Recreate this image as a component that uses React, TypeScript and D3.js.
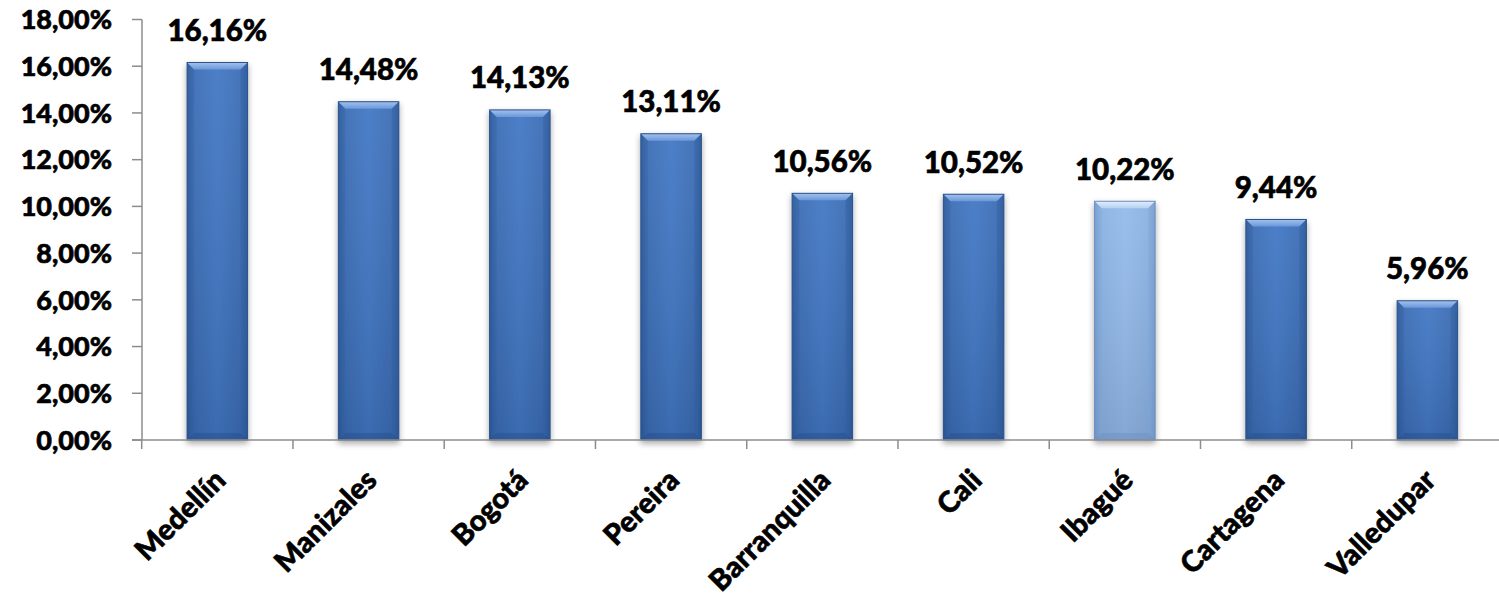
import React from "react";
import * as d3 from "d3";

const categories = ["Medellín", "Manizales", "Bogotá", "Pereira", "Barranquilla", "Cali", "Ibagué", "Cartagena", "Valledupar"];
const values = [16.16, 14.48, 14.13, 13.11, 10.56, 10.52, 10.22, 9.44, 5.96];
const valueLabels = ["16,16%", "14,48%", "14,13%", "13,11%", "10,56%", "10,52%", "10,22%", "9,44%", "5,96%"];
const highlighted = ["Ibagué"];
const yTicks = [0, 2, 4, 6, 8, 10, 12, 14, 16, 18];
const yTickLabels = ["0,00%", "2,00%", "4,00%", "6,00%", "8,00%", "10,00%", "12,00%", "14,00%", "16,00%", "18,00%"];

const W = 1499;
const H = 595;
const FONT = "Lato, 'Open Sans', sans-serif";

export default function App() {
  const x = d3.scaleBand<string>().domain(categories).range([141.7, 1503]).padding(0);
  const y = d3.scaleLinear().domain([0, 18]).range([440, 19.5]);
  const step = x.step();
  const bw = step * 0.4;
  const bev = 7;
  const axisColor = "#8c8c8c";
  const textStyle = { stroke: "#000", strokeWidth: 0.6, paintOrder: "stroke" } as React.CSSProperties;

  return (
    <svg width={W} height={H} style={{ position: "absolute", left: 0, top: 0, background: "#fff" }}>
      <defs>
        <linearGradient id="bodyDark" x1="0" x2="1" y1="0" y2="0">
          <stop offset="0%" stopColor="#2C5896" />
          <stop offset="10%" stopColor="#3A6CB4" />
          <stop offset="50%" stopColor="#4177C4" />
          <stop offset="90%" stopColor="#3A6CB4" />
          <stop offset="100%" stopColor="#2C5896" />
        </linearGradient>
        <linearGradient id="bodyLight" x1="0" x2="1" y1="0" y2="0">
          <stop offset="0%" stopColor="#7098CC" />
          <stop offset="10%" stopColor="#8AB1E2" />
          <stop offset="50%" stopColor="#94BAEA" />
          <stop offset="90%" stopColor="#8AB1E2" />
          <stop offset="100%" stopColor="#7098CC" />
        </linearGradient>
        <linearGradient id="topDark" x1="0" x2="0" y1="0" y2="1">
          <stop offset="0%" stopColor="#A4C2EC" />
          <stop offset="100%" stopColor="#6A98DA" />
        </linearGradient>
        <linearGradient id="topLight" x1="0" x2="0" y1="0" y2="1">
          <stop offset="0%" stopColor="#E2EEFB" />
          <stop offset="100%" stopColor="#B5D0F2" />
        </linearGradient>
        <linearGradient id="vshadeDark" x1="0" x2="0" y1="0" y2="1">
          <stop offset="0%" stopColor="#ffffff" stopOpacity="0.06" />
          <stop offset="100%" stopColor="#000000" stopOpacity="0.10" />
        </linearGradient>
        <filter id="shadow" x="-30%" y="-10%" width="160%" height="130%">
          <feGaussianBlur in="SourceAlpha" stdDeviation="3" />
          <feOffset dx="0" dy="3" result="b" />
          <feComponentTransfer>
            <feFuncA type="linear" slope="0.35" />
          </feComponentTransfer>
          <feMerge>
            <feMergeNode />
            <feMergeNode in="SourceGraphic" />
          </feMerge>
        </filter>
      </defs>

      {/* bars */}
      {categories.map((c, i) => {
        const x0 = (x(c) as number) + (step - bw) / 2;
        const y0 = y(values[i]);
        const y1 = y(0);
        const h = y1 - y0;
        const light = highlighted.includes(c);
        const side = light ? "#7FA6D8" : "#315FA2";
        const bottom = light ? "#6F95C6" : "#2A5392";
        return (
          <g key={c} filter="url(#shadow)">
            <rect x={x0} y={y0} width={bw} height={h} fill={light ? "url(#bodyLight)" : "url(#bodyDark)"} />
            <rect x={x0} y={y0} width={bw} height={h} fill="url(#vshadeDark)" />
            <polygon
              points={`${x0},${y0} ${x0 + bw},${y0} ${x0 + bw - bev},${y0 + bev} ${x0 + bev},${y0 + bev}`}
              fill={light ? "url(#topLight)" : "url(#topDark)"}
            />
            <polygon
              points={`${x0},${y1} ${x0 + bw},${y1} ${x0 + bw - bev},${y1 - bev} ${x0 + bev},${y1 - bev}`}
              fill={bottom}
              opacity={0.6}
            />
            <polygon
              points={`${x0},${y0} ${x0 + bev},${y0 + bev} ${x0 + bev},${y1 - bev} ${x0},${y1}`}
              fill={side}
              opacity={0.35}
            />
            <polygon
              points={`${x0 + bw},${y0} ${x0 + bw - bev},${y0 + bev} ${x0 + bw - bev},${y1 - bev} ${x0 + bw},${y1}`}
              fill={side}
              opacity={0.45}
            />
            <rect x={x0} y={y0} width={bw} height={h} fill="none" stroke={light ? "#6B8FBF" : "#2A528C"} strokeWidth={1} />
          </g>
        );
      })}

      {/* y axis */}
      <line x1={142} x2={142} y1={y(18)} y2={y(0)} stroke={axisColor} strokeWidth={1.5} />
      {yTicks.map((t, i) => (
        <g key={t}>
          <line x1={132} x2={142} y1={y(t)} y2={y(t)} stroke={axisColor} strokeWidth={1.5} />
          <text
            x={112}
            y={y(t)}
            dy="0.36em"
            textAnchor="end"
            fontFamily={FONT}
            fontWeight={900}
            fontSize={27}
            fill="#000"
            style={textStyle}
          >
            {yTickLabels[i]}
          </text>
        </g>
      ))}

      {/* x axis */}
      <line x1={132} x2={1503} y1={y(0)} y2={y(0)} stroke={axisColor} strokeWidth={1.5} />
      {d3.range(categories.length + 1).map((i) => {
        const xx = 141.7 + i * step;
        return <line key={i} x1={xx} x2={xx} y1={y(0)} y2={y(0) + 9} stroke={axisColor} strokeWidth={1.5} />;
      })}

      {/* category labels */}
      {categories.map((c) => {
        const cx = (x(c) as number) + step / 2;
        return (
          <text
            key={c}
            transform={`translate(${cx + 10},${482}) rotate(-45)`}
            textAnchor="end"
            fontFamily={FONT}
            fontWeight={900}
            fontSize={29}
            fill="#000"
            style={textStyle}
          >
            {c}
          </text>
        );
      })}

      {/* value labels */}
      {categories.map((c, i) => {
        const cx = (x(c) as number) + step / 2;
        return (
          <text
            key={c}
            x={cx}
            y={y(values[i]) - 21.5}
            textAnchor="middle"
            fontFamily={FONT}
            fontWeight={900}
            fontSize={29.5}
            fill="#000"
            style={textStyle}
          >
            {valueLabels[i]}
          </text>
        );
      })}
    </svg>
  );
}
